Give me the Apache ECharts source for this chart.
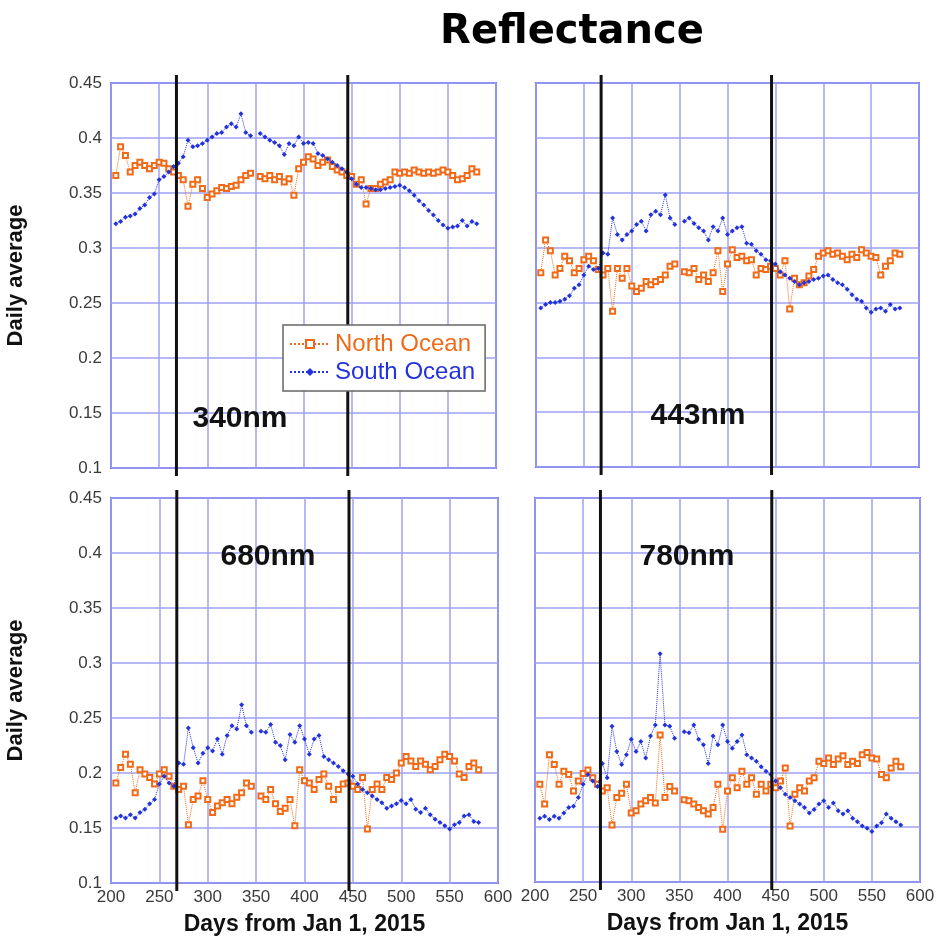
<!DOCTYPE html>
<html><head><meta charset="utf-8">
<script src="https://cdn.jsdelivr.net/npm/echarts@6/dist/echarts.min.js"></script>
<style>html,body{margin:0;padding:0;background:#fff}#c{width:940px;height:937px}</style>
</head><body><div id="c"></div>
<script>
// ---------- data ----------
const days = [205,210,215,220,225,230,235,240,245,250,255,260,265,270,275,280,285,290,295,300,
  305,310,315,320,325,330,335,340,345,350,355,360,365,370,375,380,385,390,395,400,
  405,410,415,420,425,430,435,440,445,450,455,460,465,470,475,480,485,490,495,500,
  505,510,515,520,525,530,535,540,545,550,555,560,565,570,575,580];

const north340 = [0.366,0.392,0.384,0.369,0.375,0.378,0.375,0.372,0.375,0.378,0.377,0.372,0.369,0.366,0.362,0.338,0.358,0.362,0.354,0.346,
  0.349,0.352,0.355,0.354,0.356,0.357,0.362,0.366,0.368,null,0.365,0.363,0.366,0.362,0.365,0.360,0.363,0.348,0.372,0.378,
  0.383,0.381,0.375,0.378,0.380,0.374,0.371,0.369,0.366,0.365,0.358,0.362,0.340,0.354,0.354,0.358,0.360,0.362,0.369,0.368,
  0.369,0.368,0.371,0.369,0.368,0.369,0.368,0.369,0.371,0.369,0.366,0.362,0.363,0.366,0.372,0.369];
const south340 = [0.322,0.324,0.328,0.329,0.331,0.336,0.339,0.346,0.349,0.362,0.365,0.369,0.374,0.377,0.383,0.398,0.392,0.393,0.395,0.398,
  0.401,0.404,0.405,0.410,0.413,0.410,0.422,0.405,0.402,null,0.404,0.401,0.398,0.396,0.393,0.385,0.395,0.393,0.401,0.395,
  0.396,0.395,0.386,0.384,0.381,0.378,0.375,0.372,0.369,0.363,0.358,0.355,0.355,0.354,0.353,0.353,0.354,0.355,0.356,0.357,
  0.355,0.352,0.348,0.343,0.339,0.334,0.330,0.325,0.321,0.318,0.319,0.320,0.325,0.320,0.324,0.322];

const north443 = [0.277,0.307,0.297,0.275,0.281,0.292,0.288,0.277,0.281,0.289,0.292,0.288,0.280,0.275,0.281,0.242,0.281,0.272,0.281,0.265,
  0.260,0.263,0.269,0.266,0.269,0.271,0.275,0.283,0.285,null,0.278,0.277,0.281,0.271,0.275,0.269,0.277,0.297,0.260,0.285,
  0.298,0.291,0.292,0.288,0.289,0.275,0.281,0.280,0.283,0.281,0.275,0.288,0.244,0.272,0.266,0.268,0.274,0.280,0.292,0.295,
  0.297,0.294,0.295,0.292,0.289,0.294,0.291,0.298,0.295,0.292,0.291,0.275,0.283,0.288,0.295,0.294];
const south443 = [0.245,0.248,0.250,0.250,0.251,0.253,0.256,0.263,0.266,0.275,0.283,0.280,0.281,0.295,0.294,0.327,0.312,0.307,0.312,0.315,
  0.321,0.324,0.315,0.330,0.333,0.330,0.348,0.327,0.321,null,0.324,0.327,0.322,0.318,0.315,0.307,0.319,0.315,0.327,0.312,
  0.315,0.318,0.319,0.304,0.303,0.297,0.294,0.289,0.288,0.285,0.278,0.275,0.272,0.269,0.266,0.268,0.269,0.271,0.272,0.274,
  0.275,0.271,0.268,0.266,0.262,0.257,0.253,0.251,0.245,0.241,0.244,0.245,0.242,0.248,0.244,0.245];

const north680 = [0.191,0.205,0.217,0.208,0.182,0.203,0.199,0.196,0.190,0.199,0.203,0.197,0.188,0.185,0.188,0.153,0.176,0.179,0.193,0.176,
  0.164,0.170,0.173,0.176,0.172,0.178,0.182,0.191,0.188,null,0.179,0.176,0.185,0.172,0.165,0.168,0.176,0.152,0.203,0.193,
  0.191,0.185,0.194,0.199,0.188,0.176,0.185,0.190,0.191,0.188,0.185,0.196,0.149,0.185,0.190,0.185,0.196,0.194,0.200,0.209,
  0.215,0.211,0.206,0.211,0.208,0.203,0.206,0.212,0.217,0.215,0.211,0.199,0.196,0.206,0.209,0.203];
const south680 = [0.159,0.161,0.159,0.162,0.159,0.164,0.167,0.172,0.176,0.190,0.197,0.191,0.188,0.209,0.208,0.241,0.223,0.209,0.218,0.223,
  0.220,0.231,0.217,0.234,0.243,0.240,0.262,0.243,0.237,null,0.238,0.237,0.244,0.228,0.225,0.212,0.235,0.228,0.243,0.231,
  0.217,0.231,0.234,0.215,0.212,0.209,0.206,0.202,0.199,0.197,0.190,0.185,0.182,0.179,0.176,0.173,0.168,0.170,0.172,0.175,
  0.172,0.176,0.167,0.164,0.168,0.162,0.158,0.155,0.152,0.149,0.153,0.155,0.161,0.162,0.156,0.155];

const north780 = [0.189,0.171,0.216,0.207,0.189,0.201,0.198,0.183,0.192,0.199,0.202,0.195,0.189,0.183,0.186,0.152,0.177,0.181,0.189,0.163,
  0.165,0.171,0.174,0.177,0.172,0.234,0.177,0.187,0.183,null,0.175,0.174,0.171,0.168,0.165,0.162,0.168,0.189,0.148,0.183,
  0.195,0.186,0.201,0.189,0.195,0.180,0.189,0.183,0.189,0.186,0.192,0.204,0.151,0.180,0.186,0.183,0.192,0.195,0.210,0.208,
  0.213,0.207,0.212,0.215,0.207,0.210,0.208,0.216,0.218,0.213,0.212,0.198,0.195,0.204,0.210,0.205];
const south780 = [0.158,0.160,0.157,0.160,0.158,0.163,0.168,0.169,0.177,0.189,0.198,0.192,0.187,0.208,0.195,0.242,0.219,0.207,0.216,0.230,
  0.219,0.228,0.213,0.233,0.243,0.308,0.243,0.242,0.231,null,0.237,0.236,0.243,0.230,0.225,0.208,0.233,0.225,0.243,0.228,
  0.222,0.228,0.234,0.216,0.213,0.210,0.205,0.201,0.198,0.192,0.186,0.180,0.177,0.174,0.171,0.168,0.163,0.166,0.171,0.174,
  0.168,0.172,0.165,0.162,0.165,0.158,0.155,0.151,0.149,0.146,0.151,0.154,0.162,0.158,0.155,0.152];

const eventDays = [268, 446];
const xTicks = [200, 250, 300, 350, 400, 450, 500, 550, 600];
const yTicks = [0.1, 0.15, 0.2, 0.25, 0.3, 0.35, 0.4, 0.45];
const panelNames = ['340nm', '443nm', '680nm', '780nm'];
const seriesNames = ['North Ocean', 'South Ocean'];

// ---------- layout / style ----------
const FONT = "'Liberation Sans', Arial, Helvetica, sans-serif";
const ORANGE = '#f06a18';
const BLUE = '#2233dd';
const panels = [
  {north: north340, south: south340, grid: {left:111, top:83, width:385, height:385}, xl:false, yl:true,  lx:240, ly:419},
  {north: north443, south: south443, grid: {left:536, top:83, width:383, height:384}, xl:false, yl:false, lx:698, ly:416},
  {north: north680, south: south680, grid: {left:111, top:498, width:387, height:385}, xl:true,  yl:true,  lx:268, ly:557},
  {north: north780, south: south780, grid: {left:535, top:498, width:385, height:384}, xl:true,  yl:false, lx:687, ly:557}
];

const grids = [], xAxes = [], yAxes = [], series = [], graphics = [];
panels.forEach((p, i) => {
  grids.push(Object.assign({show:true, borderColor:'#6b70ee', borderWidth:2, backgroundColor:'#fff'}, p.grid));
  xAxes.push({
    gridIndex:i, type:'value', min:xTicks[0], max:xTicks[xTicks.length-1], interval:xTicks[1]-xTicks[0],
    axisLine:{show:false}, axisTick:{show:false},
    splitLine:{show:true, lineStyle:{color:'#9ea2f2', width:1.5}},
    axisLabel:{show:p.xl, fontSize:17, color:'#3a3a3a', fontFamily:FONT, margin:6, showMinLabel:true, showMaxLabel:true},
    name: p.xl ? 'Days from Jan 1, 2015' : '', nameLocation:'middle', nameGap:30,
    nameTextStyle:{fontWeight:'bold', fontSize:23, color:'#111', fontFamily:FONT}
  });
  yAxes.push({
    gridIndex:i, type:'value', min:yTicks[0], max:yTicks[yTicks.length-1], interval:0.05,
    axisLine:{show:false}, axisTick:{show:false},
    splitLine:{show:true, lineStyle:{color:'#9ea2f2', width:1.5}},
    axisLabel:{show:p.yl, fontSize:17, color:'#3a3a3a', fontFamily:FONT, margin:9,
      formatter: v => String(Math.round(v*100)/100), showMinLabel:true, showMaxLabel:true},
    name: p.yl ? 'Daily average' : '', nameLocation:'middle', nameGap:84,
    nameTextStyle:{fontWeight:'bold', fontSize:22, color:'#111', fontFamily:FONT}
  });
  series.push({
    name: seriesNames[0], type:'line', xAxisIndex:i, yAxisIndex:i,
    data: days.map((d, k) => [d, p.north[k] == null ? '-' : p.north[k]]),
    symbol:'emptyRect', symbolSize:5, showSymbol:true, connectNulls:false,
    itemStyle:{color:ORANGE, borderColor:ORANGE, borderWidth:1.3},
    lineStyle:{color:ORANGE, width:1, type:'dotted'}, z:3
  });
  series.push({
    name: seriesNames[1], type:'line', xAxisIndex:i, yAxisIndex:i,
    data: days.map((d, k) => [d, p.south[k] == null ? '-' : p.south[k]]),
    symbol:'diamond', symbolSize:5, showSymbol:true, connectNulls:false,
    itemStyle:{color:BLUE},
    lineStyle:{color:BLUE, width:1, type:'dotted'}, z:4
  });
  series.push({
    type:'custom', xAxisIndex:i, yAxisIndex:i, clip:false, silent:true, z:10,
    data: eventDays.map(d => [d]),
    encode:{x:0},
    renderItem: (params, api) => {
      const cs = params.coordSys;
      const x = api.coord([api.value(0), yTicks[0]])[0];
      return {type:'line', shape:{x1:x, y1:cs.y - 8, x2:x, y2:cs.y + cs.height + 8},
        style:{stroke:'#111', lineWidth:3}};
    }
  });
  graphics.push({type:'text', x:p.lx, y:p.ly, z:20,
    style:{text:panelNames[i], font:"bold 30px 'Liberation Sans', Arial, sans-serif", fill:'#111',
      textAlign:'center', textVerticalAlign:'middle'}});
});

graphics.push({type:'text', x:572, y:33, z:20,
  style:{text:'Reflectance', font:"bold 40px 'Comic Sans MS', 'DejaVu Sans', sans-serif", fill:'#000',
    textAlign:'center', textVerticalAlign:'middle'}});

const chart = echarts.init(document.getElementById('c'), null, {renderer:'canvas'});
chart.setOption({
  animation:false,
  backgroundColor:'#fff',
  grid: grids, xAxis: xAxes, yAxis: yAxes, series: series, graphic: graphics,
  legend: {
    data: [
      {name:seriesNames[0], textStyle:{color:ORANGE}},
      {name:seriesNames[1], textStyle:{color:BLUE}}
    ],
    orient:'vertical', left:283, top:325, z:15,
    backgroundColor:'#fff', borderColor:'#666', borderWidth:1.5,
    padding:[7, 10, 7, 6], itemGap:4, itemWidth:40, itemHeight:10,
    textStyle:{fontSize:24, fontFamily:FONT},
    selectedMode:false
  }
});
</script></body></html>
